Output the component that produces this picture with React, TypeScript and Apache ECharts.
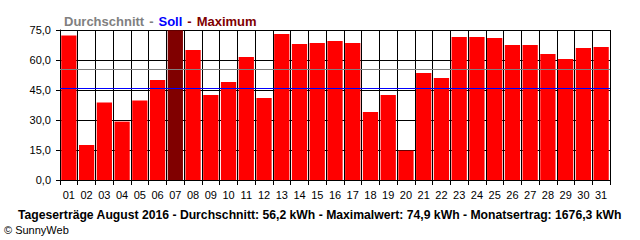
import React, { useEffect, useRef } from "react";
import * as echarts from "echarts";

const days = ["01","02","03","04","05","06","07","08","09","10","11","12","13","14","15","16","17","18","19","20","21","22","23","24","25","26","27","28","29","30","31"];
const yields = [72.2,17.5,38.7,29.2,39.7,50.0,74.9,65.0,42.5,49.0,61.5,41.0,73.0,68.0,68.5,69.5,68.5,34.0,42.5,14.7,53.5,51.0,71.5,71.5,71.0,67.5,67.5,63.0,60.5,66.0,66.5];
const averageLine = 55.4;
const targetLine = 45.8;
const yTicks = { min: 0, max: 75, interval: 15 };
const footerText = "Tageserträge August 2016 - Durchschnitt: 56,2 kWh - Maximalwert: 74,9 kWh - Monatsertrag: 1676,3 kWh";
const copyrightText = "© SunnyWeb";

export default function App() {
  const ref = useRef<HTMLDivElement>(null);
  useEffect(() => {
    document.body.style.margin = "0";
    if (!ref.current) return;
    const chart = echarts.init(ref.current, null, { renderer: "svg" });
    const maxVal = Math.max(...yields);
    const font = "'Liberation Sans', Arial, sans-serif";
    chart.setOption({
      animation: false,
      backgroundColor: "#ffffff",
      textStyle: { fontFamily: font },
      grid: { left: 60, right: 30, top: 30, bottom: 60, containLabel: false },
      title: {
        left: 59,
        top: 7,
        text: "{a|Durchschnitt} {a|-} {b|Soll} {c|-} {c|Maximum}",
        textStyle: {
          fontFamily: font,
          rich: {
            a: { color: "#808080", fontWeight: "bold", fontSize: 13, fontFamily: font },
            b: { color: "#0000ff", fontWeight: "bold", fontSize: 13, fontFamily: font },
            c: { color: "#800000", fontWeight: "bold", fontSize: 13, fontFamily: font },
          },
        },
      },
      graphic: [
        {
          type: "text",
          left: 18,
          top: 209,
          style: { text: footerText, fill: "#000", font: `bold 12.2px ${font}` },
        },
        {
          type: "text",
          left: 4,
          top: 224,
          style: { text: copyrightText, fill: "#000", font: `11px ${font}` },
        },
      ],
      xAxis: {
        type: "category",
        data: days,
        boundaryGap: true,
        axisLine: { lineStyle: { color: "#000", width: 1 } },
        axisTick: { show: true, length: 5, lineStyle: { color: "#000" } },
        axisLabel: { color: "#000", fontSize: 11, fontFamily: font, margin: 9, interval: 0 },
        splitLine: { show: true, lineStyle: { color: "#000", width: 1 } },
      },
      yAxis: {
        type: "value",
        min: yTicks.min,
        max: yTicks.max,
        interval: yTicks.interval,
        axisLine: { show: true, lineStyle: { color: "#000", width: 1 } },
        axisTick: { show: true, length: 4, lineStyle: { color: "#000" } },
        axisLabel: {
          color: "#000",
          fontSize: 11,
          fontFamily: font,
          margin: 9,
          formatter: (v: number) => v.toFixed(1).replace(".", ","),
        },
        splitLine: { show: true, lineStyle: { color: "#000", width: 1 } },
      },
      series: [
        {
          type: "bar",
          barCategoryGap: "14%",
          data: yields.map((v) => ({
            value: v,
            itemStyle: { color: v === maxVal ? "#800000" : "#ff0000" },
          })),
          markLine: {
            silent: true,
            symbol: "none",
            label: { show: false },
            data: [
              { yAxis: averageLine, lineStyle: { color: "#808080", width: 1, type: "solid" } },
              { yAxis: targetLine, lineStyle: { color: "#0000ff", width: 1, type: "solid" } },
            ],
          },
        },
      ],
    });
    return () => chart.dispose();
  }, []);
  return <div ref={ref} style={{ width: 640, height: 240 }} />;
}
